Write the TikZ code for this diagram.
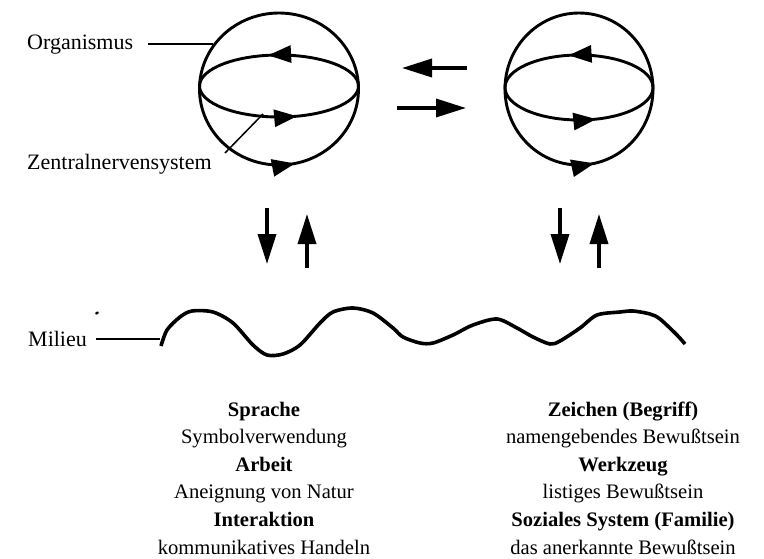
\documentclass[tikz,border=0pt]{standalone}
\usepackage{fontspec}
\setmainfont{Liberation Serif}
\usetikzlibrary{arrows.meta,decorations.markings}
\begin{document}
\begin{tikzpicture}[x=1pt,y=-1pt,
  sphere/.style={line width=2.9pt},
  flow/.style={line width=3.5pt,-{Triangle[length=30pt,width=18pt]}},
  tag/.style={font=\fontsize{22}{26}\selectfont, inner sep=0pt, anchor=west},
  leader/.style={line width=1.5pt},
  caption/.style={font=\fontsize{20.6}{27.6}\selectfont, align=center, inner sep=0pt},
  turning/.style 2 args={postaction=decorate, decoration={markings,
      mark=at position #1 with {\arrow{Triangle[length=23pt,width=17pt]}},
      mark=at position #2 with {\arrow{Triangle[length=23pt,width=17pt]}}}},
  turningone/.style={postaction=decorate, decoration={markings,
      mark=at position #1 with {\arrow{Triangle[length=23pt,width=17pt]}}}}
]
\useasboundingbox (0,0) rectangle (764,558);

% left sphere: organism with its central nervous system
\draw[sphere, turningone=0.783] (279,89) circle[x radius=79.5pt, y radius=76pt];
\draw[sphere, turning={0.28}{0.80}] (279,86) circle[x radius=79.5pt, y radius=31pt];

% right sphere
\draw[sphere, turningone=0.783] (579,89) circle[x radius=74pt, y radius=76pt];
\draw[sphere, turning={0.28}{0.80}] (579,87.5) circle[x radius=74pt, y radius=32.5pt];

% exchange between the two spheres
\coordinate (hlA) at (467,68);  \coordinate (hlB) at (402,68);
\coordinate (hrA) at (397,108); \coordinate (hrB) at (466,108);
\draw[flow] (hlA) -- (hlB);
\draw[flow] (hrA) -- (hrB);

% exchange between spheres and milieu
\coordinate (d1a) at (267,208); \coordinate (d1b) at (267,264);
\coordinate (u1a) at (307,268); \coordinate (u1b) at (307,214);
\coordinate (d2a) at (560,208); \coordinate (d2b) at (560,264);
\coordinate (u2a) at (599,268); \coordinate (u2b) at (599,214);
\draw[flow] (d1a) -- (d1b);
\draw[flow] (u1a) -- (u1b);
\draw[flow] (d2a) -- (d2b);
\draw[flow] (u2a) -- (u2b);

% milieu wave
\draw[line width=3.6pt, line join=round] plot[smooth, tension=0.5] coordinates {
  (161,346) (167,330) (180,317) (192,311) (213,312) (233,323) (253,345)
  (267,355) (283,354) (300,345) (320,323) (333,312) (353,308) (373,313)
  (393,328) (403,337) (420,343) (433,343) (453,335) (473,325) (497,319)
  (517,328) (533,337) (550,344) (560,341) (580,328) (597,315) (620,312)
  (633,311) (650,314) (660,319) (677,335) (685,344)};
\fill[rotate around={30:(97,313)}] (97,313) ellipse[x radius=2pt, y radius=1.3pt];

% labels with leader lines
\node[tag] (org) at (27,45) {Organismus};
\coordinate (orgStart) at (148,44);
\coordinate (orgEnd) at (213,44);
\draw[leader] (orgStart) -- (orgEnd);

\node[tag] (zns) at (27,164) {Zentralnervensystem};
\coordinate (znsA) at (225,153);
\coordinate (znsB) at (263,114);
\draw[leader] (znsA) -- (znsB);

\node[tag] (mil) at (28,339) {Milieu};
\coordinate (milStart) at (96,339);
\coordinate (milEnd) at (160,339);
\draw[leader] (milStart) -- (milEnd);

% captions
\node[caption] (capL) at (264,478) {\textbf{Sprache}\\Symbolverwendung\\\textbf{Arbeit}\\Aneignung von Natur\\\textbf{Interaktion}\\kommunikatives Handeln};
\node[caption] (capR) at (623,478) {\textbf{Zeichen (Begriff)}\\namengebendes Bewußtsein\\\textbf{Werkzeug}\\listiges Bewußtsein\\\textbf{Soziales System (Familie)}\\das anerkannte Bewußtsein};
\end{tikzpicture}
\end{document}
